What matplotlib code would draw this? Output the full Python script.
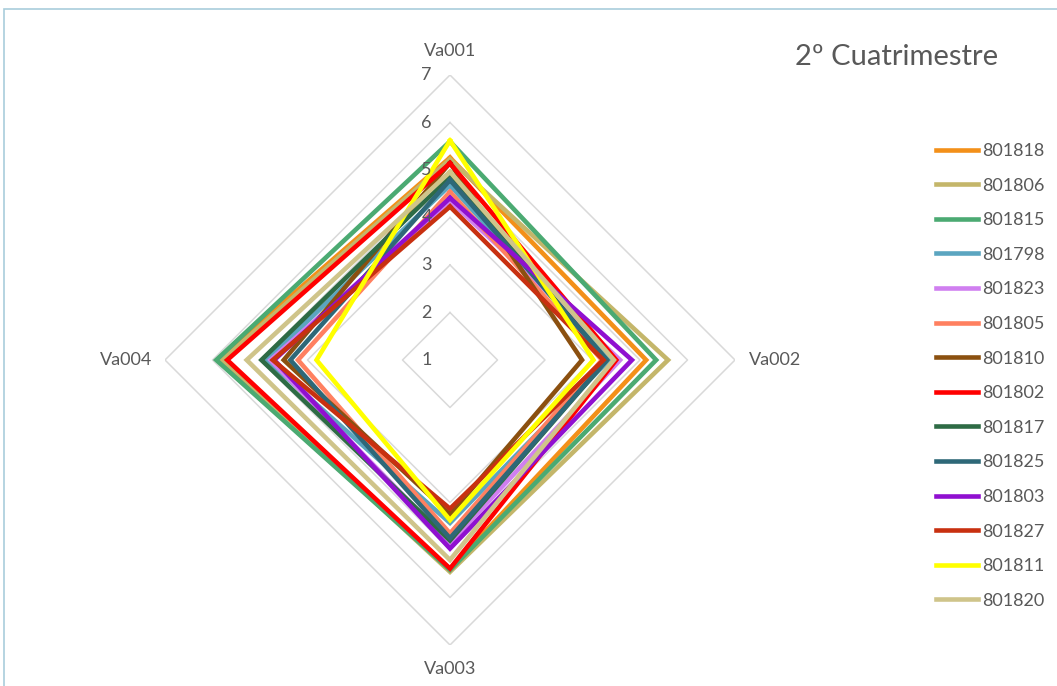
import numpy as np
import matplotlib.pyplot as plt
from matplotlib.patches import Rectangle

plt.rcParams['font.family'] = ['Lato', 'DejaVu Sans']

axes_names = ['Va001', 'Va002', 'Va003', 'Va004']
series = ['801818', '801806', '801815', '801798', '801823', '801805', '801810',
          '801802', '801817', '801825', '801803', '801827', '801811', '801820']
colors = ['#F39019', '#C4B66A', '#4BAA72', '#5BA5C0', '#D07FF0', '#FF8060', '#8B5010',
          '#FF0000', '#2E6B45', '#2E6878', '#9010D0', '#C83010', '#FFFF00', '#CFC48A']
# values for Va001, Va002, Va003, Va004
s801818 = [5.26, 5.13, 5.40, 5.90]
s801806 = [5.22, 5.59, 5.46, 5.80]
s801815 = [5.60, 5.34, 5.42, 5.92]
s801798 = [4.68, 4.35, 4.43, 4.86]
s801823 = [4.35, 4.58, 4.85, 4.78]
s801805 = [4.54, 4.20, 4.65, 4.20]
s801810 = [5.15, 3.78, 4.25, 4.50]
s801802 = [5.14, 4.50, 5.39, 5.69]
s801817 = [4.86, 4.30, 4.80, 4.97]
s801825 = [4.79, 4.30, 4.75, 4.36]
s801803 = [4.41, 4.83, 4.97, 4.70]
s801827 = [4.23, 4.23, 4.13, 4.73]
s801811 = [5.62, 4.02, 4.37, 3.81]
s801820 = [4.96, 4.45, 5.21, 5.28]
values = [s801818, s801806, s801815, s801798, s801823, s801805, s801810,
          s801802, s801817, s801825, s801803, s801827, s801811, s801820]
ticks = [1, 2, 3, 4, 5, 6, 7]

W, H = 1057, 686
fig = plt.figure(figsize=(W / 100, H / 100), dpi=100)
# chart border (cut off at right and bottom)
fig.patches.append(Rectangle((4 / W, -0.1), 1.2, 1 - 9 / H + 0.1, transform=fig.transFigure,
                             fill=False, edgecolor='#A9CDDB', lw=1.2))

ax = fig.add_axes([165 / W, 41 / H, 570 / W, 570 / H], projection='polar')
ax.set_theta_offset(np.pi / 2)
ax.set_theta_direction(-1)
ax.set_ylim(1, 7)
ax.grid(False)
ax.spines['polar'].set_visible(False)
ax.set_xticks([])
ax.set_yticks([])

theta = np.linspace(0, 2 * np.pi, len(axes_names), endpoint=False)
th_closed = np.append(theta, theta[0])

for t in ticks[1:]:
    ax.plot(th_closed, [t] * len(th_closed), color='#D9D9D9', lw=1.1, zorder=1)

for name, vals, c in zip(series, values, colors):
    ax.plot(th_closed, vals + vals[:1], color=c, lw=3.3, label=name, zorder=2,
            solid_joinstyle='miter')

for t in ticks:
    ax.annotate(str(t), (0, t), xytext=(-13, 0), textcoords='offset points',
                ha='right', va='center', fontsize=13, color='#595959')

offs = [((0, 17), 'center'), ((10, 0), 'left'), ((0, -17), 'center'), ((-9, 0), 'right')]
for th, name, (o, ha) in zip(theta, axes_names, offs):
    ax.annotate(name, (th, 7), xytext=o, textcoords='offset points',
                ha=ha, va='center', fontsize=13, color='#595959')

fig.text(897 / W, 1 - 57 / H, '2º Cuatrimestre', fontsize=21, color='#595959',
         ha='center', va='center')

leg = fig.legend(loc='upper left', bbox_to_anchor=(936 / W, 1 - 143 / H), frameon=False,
                 fontsize=13, handlelength=2.3, handletextpad=0.28, labelspacing=1.03,
                 borderpad=0, borderaxespad=0)
for txt in leg.get_texts():
    txt.set_color('#595959')

fig.savefig('out.png', dpi=100)
